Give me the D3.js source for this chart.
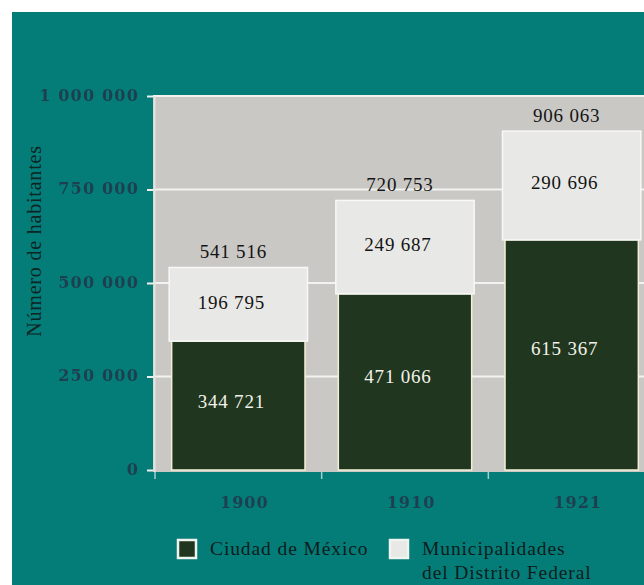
<!DOCTYPE html>
<html>
<head>
<meta charset="utf-8">
<script src="https://cdn.jsdelivr.net/npm/d3@7"></script>
<style>
  html, body { margin: 0; padding: 0; background: #ffffff; }
  svg { display: block; font-family: "Liberation Serif", serif; }
</style>
</head>
<body>
<svg id="chart"></svg>
<script>
// datos
const years = ["1900", "1910", "1921"];
const ciudad = [344721, 471066, 615367];
const municipalidades = [196795, 249687, 290696];
const totals = [541516, 720753, 906063];
const yTicks = [0, 250000, 500000, 750000, 1000000];
const seriesNames = ["Ciudad de México", "Municipalidades del Distrito Federal"];

const width = 644, height = 585;
const serif = "'Liberation Serif', serif";
const axisFont = "'DejaVu Serif', serif";
const svg = d3.select("#chart").attr("width", width).attr("height", height);

// leve desenfoque para las etiquetas de los ejes (como en la figura escaneada)
svg.append("defs").append("filter")
    .attr("id", "soft")
    .append("feGaussianBlur")
    .attr("stdDeviation", 0.6);

// fondo verde azulado (con margen blanco arriba e izquierda)
svg.append("rect")
    .attr("x", 12).attr("y", 12)
    .attr("width", width - 12).attr("height", height - 12)
    .attr("fill", "#047d79");

const fmt = d3.formatLocale({ decimal: ",", thousands: " ", grouping: [3], currency: ["", ""] }).format(",d");

const x = d3.scaleBand()
    .domain(years)
    .range([155, 655])
    .paddingInner(0.2)
    .paddingOuter(0.1);

const y = d3.scaleLinear()
    .domain([0, 1000000])
    .range([470, 96]);

// area del grafico
svg.append("rect")
    .attr("x", 153).attr("y", 96)
    .attr("width", width - 153).attr("height", 376)
    .attr("fill", "#c9c8c4");

// lineas de la cuadricula
svg.append("g")
    .selectAll("line")
    .data(yTicks.slice(1))
    .enter().append("line")
    .attr("x1", 153).attr("x2", width)
    .attr("y1", d => y(d)).attr("y2", d => y(d))
    .attr("stroke", "#f2f2f0")
    .attr("stroke-width", 2);

// linea del eje vertical
svg.append("line")
    .attr("x1", 154.5).attr("x2", 154.5)
    .attr("y1", 96).attr("y2", 472)
    .attr("stroke", "#e4e4e0")
    .attr("stroke-width", 2);

// eje y
const yAxis = svg.append("g")
    .attr("transform", "translate(153,0)")
    .call(d3.axisLeft(y).tickValues(yTicks).tickSize(6).tickPadding(8).tickFormat(fmt));
yAxis.select(".domain").remove();
yAxis.selectAll(".tick line").attr("stroke", "#eef0ee").attr("stroke-width", 2);
yAxis.selectAll(".tick text")
    .attr("fill", "#1d4050")
    .attr("filter", "url(#soft)")
    .style("font-family", axisFont)
    .style("font-size", "16px")
    .style("font-weight", "bold")
    .attr("letter-spacing", 1.2)
    .attr("dy", "0.25em");

// titulo eje y
svg.append("text")
    .attr("transform", "translate(41,241) rotate(-90)")
    .attr("text-anchor", "middle")
    .attr("fill", "#0c2525")
    .style("font-family", serif)
    .attr("font-size", 20)
    .attr("letter-spacing", 0.8)
    .text("Número de habitantes");

// barras apiladas
const table = years.map((yr, i) => ({ year: yr, ciudad: ciudad[i], muni: municipalidades[i], total: totals[i] }));
const stack = d3.stack().keys(["ciudad", "muni"])(table);
const fills = { ciudad: "#20361f", muni: "#e8e8e6" };
const strokes = { ciudad: "#f3efd6", muni: "#f8f8f6" };
const labelFill = { ciudad: "#f2f2ea", muni: "#141414" };

stack.forEach(layer => {
    const key = layer.key;
    const pad = key === "muni" ? 2.5 : 0;
    svg.append("g")
        .selectAll("rect")
        .data(layer)
        .enter().append("rect")
        .attr("x", d => x(d.data.year) - pad)
        .attr("width", x.bandwidth() + 2 * pad)
        .attr("y", d => y(d[1]))
        .attr("height", d => y(d[0]) - y(d[1]))
        .attr("fill", fills[key])
        .attr("stroke", strokes[key])
        .attr("stroke-width", 1.5);
});

// etiquetas de valores dentro de los segmentos
stack.forEach(layer => {
    const key = layer.key;
    svg.append("g")
        .selectAll("text")
        .data(layer)
        .enter().append("text")
        .attr("x", d => x(d.data.year) + x.bandwidth() / 2 - 7)
        .attr("y", d => y(d[1]) + (y(d[0]) - y(d[1])) * 0.47)
        .attr("dy", "0.35em")
        .attr("text-anchor", "middle")
        .attr("fill", labelFill[key])
        .style("font-family", serif)
        .attr("font-size", 19)
        .attr("letter-spacing", 0.8)
        .text(d => fmt(d.data[key]));
});

// totales encima de las barras
svg.append("g")
    .selectAll("text")
    .data(table)
    .enter().append("text")
    .attr("x", d => x(d.year) + x.bandwidth() / 2 - 5)
    .attr("y", d => y(d.total) - 9)
    .attr("text-anchor", "middle")
    .attr("fill", "#141414")
    .style("font-family", serif)
    .attr("font-size", 19)
    .attr("letter-spacing", 0.8)
    .text(d => fmt(d.total));

// marcas del eje x (limites de las bandas)
svg.append("g")
    .selectAll("line")
    .data(years)
    .enter().append("line")
    .attr("x1", d => x(d) - x.step() * 0.1)
    .attr("x2", d => x(d) - x.step() * 0.1)
    .attr("y1", 472).attr("y2", 479)
    .attr("stroke", "#9fcfcf")
    .attr("stroke-width", 1.5);

// etiquetas de anos
svg.append("g")
    .selectAll("text")
    .data(years)
    .enter().append("text")
    .attr("x", d => x(d) + x.bandwidth() / 2 + 6)
    .attr("y", 508)
    .attr("text-anchor", "middle")
    .attr("fill", "#1d4050")
    .attr("filter", "url(#soft)")
    .style("font-family", axisFont)
    .style("font-weight", "bold")
    .attr("font-size", 16)
    .attr("letter-spacing", 1)
    .text(d => d);

// leyenda
const legend = svg.append("g");
const legendItems = [
    { key: "ciudad", x: 178, lines: [seriesNames[0]] },
    { key: "muni", x: 390, lines: ["Municipalidades", "del Distrito Federal"] }
];
legendItems.forEach(item => {
    legend.append("rect")
        .attr("x", item.x).attr("y", 540)
        .attr("width", 18).attr("height", 18)
        .attr("fill", fills[item.key])
        .attr("stroke", "#eef4ee")
        .attr("stroke-width", 2.5);
    const t = legend.append("text")
        .attr("x", item.x + 32)
        .attr("y", 555)
        .attr("fill", "#0c1c1c")
        .style("font-family", serif)
        .attr("font-size", 19.5)
        .attr("letter-spacing", 0.9);
    item.lines.forEach((ln, i) => {
        t.append("tspan")
            .attr("x", item.x + 32)
            .attr("dy", i === 0 ? 0 : 24)
            .text(ln);
    });
});
</script>
</body>
</html>
